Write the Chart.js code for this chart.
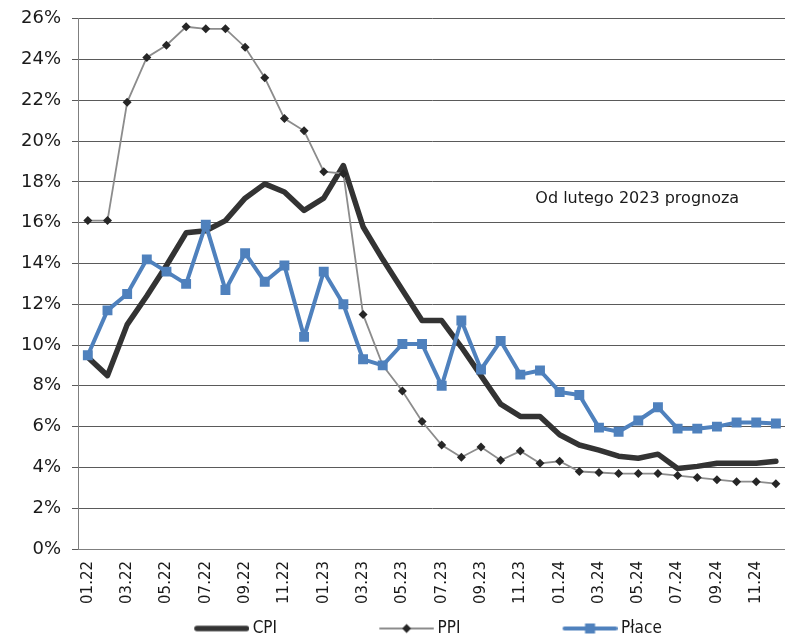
<!DOCTYPE html>
<html lang="pl">

<head>
    <meta charset="UTF-8">
    <title>CPI, PPI, Płace</title>
    <script src="https://cdn.jsdelivr.net/npm/chart.js"></script>
    <style>
        body { margin: 0; overflow: hidden; background: #fff; }
    </style>
</head>

<body>
    <canvas id="inflChart" width="806" height="647"></canvas>

    <script>
        // months 01.22 - 12.24
        const months = ['01.22', '02.22', '03.22', '04.22', '05.22', '06.22', '07.22', '08.22', '09.22', '10.22', '11.22', '12.22',
            '01.23', '02.23', '03.23', '04.23', '05.23', '06.23', '07.23', '08.23', '09.23', '10.23', '11.23', '12.23',
            '01.24', '02.24', '03.24', '04.24', '05.24', '06.24', '07.24', '08.24', '09.24', '10.24', '11.24', '12.24'];

        // values in %
        const cpi = [9.4, 8.5, 11.0, 12.4, 13.9, 15.5, 15.6, 16.1, 17.2, 17.9, 17.5, 16.6,
            17.2, 18.8, 15.8, 14.2, 12.7, 11.2, 11.2, 9.9, 8.5, 7.1, 6.5, 6.5,
            5.6, 5.1, 4.85, 4.55, 4.45, 4.65, 3.95, 4.05, 4.2, 4.2, 4.2, 4.3];
        const ppi = [16.1, 16.1, 21.9, 24.1, 24.7, 25.6, 25.5, 25.5, 24.6, 23.1, 21.1, 20.5,
            18.5, 18.4, 11.5, 9.0, 7.75, 6.25, 5.1, 4.5, 5.0, 4.35, 4.8, 4.2,
            4.3, 3.8, 3.75, 3.7, 3.7, 3.7, 3.6, 3.5, 3.4, 3.3, 3.3, 3.2];
        const place = [9.5, 11.7, 12.5, 14.2, 13.6, 13.0, 15.9, 12.7, 14.5, 13.1, 13.9, 10.4,
            13.6, 12.0, 9.3, 9.0, 10.05, 10.05, 8.0, 11.2, 8.8, 10.2, 8.55, 8.75,
            7.7, 7.55, 5.95, 5.75, 6.3, 6.95, 5.9, 5.9, 6.0, 6.2, 6.2, 6.15];

        const forecastNote = 'Od lutego 2023 prognoza';

        const CPI_COLOR = '#333333';
        const PPI_COLOR = '#8c8c8c';
        const PPI_MARK = '#262626';
        const PLACE_COLOR = '#4f81bd';

        // legend icons: a wide box, the line sample sits at its right end
        // (image is 10px wider than the box so the line comes closer to the text)
        const ICON_BOX = 140, ICON_LINE = 55, ICON_H = 14;
        function legendIcon(color, width, marker) {
            const c = document.createElement('canvas');
            c.width = ICON_BOX + 10;
            c.height = ICON_H;
            const ctx = c.getContext('2d');
            const mid = ICON_H / 2;
            const x0 = c.width - ICON_LINE;
            ctx.strokeStyle = color;
            ctx.lineWidth = width;
            ctx.lineCap = 'round';
            ctx.beginPath();
            ctx.moveTo(x0 + width / 2, mid);
            ctx.lineTo(c.width - width / 2, mid);
            ctx.stroke();
            const cx = x0 + ICON_LINE / 2;
            if (marker === 'diamond') {
                ctx.fillStyle = PPI_MARK;
                ctx.beginPath();
                ctx.moveTo(cx, mid - 4.5); ctx.lineTo(cx + 4.5, mid);
                ctx.lineTo(cx, mid + 4.5); ctx.lineTo(cx - 4.5, mid);
                ctx.closePath();
                ctx.fill();
            } else if (marker === 'square') {
                ctx.fillStyle = color;
                ctx.fillRect(cx - 5, mid - 5, 10, 10);
            }
            return c;
        }

        const icons = [
            legendIcon(CPI_COLOR, 5.5),
            legendIcon(PPI_COLOR, 2, 'diamond'),
            legendIcon(PLACE_COLOR, 4, 'square')
        ];

        // note text placed by data coordinates
        const notePlugin = {
            id: 'note',
            afterLayout(chart) {
                // legend row sits a bit left of the canvas centre
                chart.legend.left -= 36;
            },
            afterDatasetsDraw(chart) {
                const { ctx, scales: { x, y } } = chart;
                ctx.save();
                ctx.font = '16px "DejaVu Sans", Verdana, sans-serif';
                ctx.fillStyle = '#1a1a1a';
                ctx.textBaseline = 'middle';
                ctx.fillText(forecastNote, x.getPixelForValue(22) + 15, y.getPixelForValue(17.15));
                ctx.restore();
            }
        };

        const tickFont = { family: '"DejaVu Sans", Verdana, sans-serif' };

        new Chart(document.getElementById('inflChart'), {
            type: 'line',
            data: {
                labels: months,
                datasets: [{
                    label: 'CPI',
                    data: cpi,
                    borderColor: CPI_COLOR,
                    borderWidth: 5.5,
                    borderJoinStyle: 'round',
                    borderCapStyle: 'round',
                    pointRadius: 0,
                    order: 3
                }, {
                    label: 'PPI',
                    data: ppi,
                    borderColor: PPI_COLOR,
                    borderWidth: 1.8,
                    pointStyle: 'rectRot',
                    pointRadius: 4.5,
                    pointBackgroundColor: PPI_MARK,
                    pointBorderWidth: 0,
                    order: 2
                }, {
                    label: 'Płace',
                    data: place,
                    borderColor: PLACE_COLOR,
                    borderWidth: 4,
                    borderJoinStyle: 'round',
                    pointStyle: 'rect',
                    pointRadius: 7,
                    pointBackgroundColor: PLACE_COLOR,
                    pointBorderWidth: 0,
                    order: 1
                }]
            },
            options: {
                responsive: false,
                animation: false,
                layout: { padding: { top: 18, right: 4, left: 0, bottom: 0 } },
                plugins: {
                    tooltip: { enabled: false },
                    legend: {
                        position: 'bottom',
                        labels: {
                            usePointStyle: true,
                            pointStyleWidth: ICON_BOX,
                            padding: 12,
                            color: '#1a1a1a',
                            font: { family: '"DejaVu Sans Condensed", "DejaVu Sans", sans-serif', size: 17 },
                            generateLabels(chart) {
                                return chart.data.datasets.map((ds, i) => ({
                                    text: ds.label,
                                    pointStyle: icons[i],
                                    datasetIndex: i,
                                    lineWidth: 0,
                                    fontColor: '#1a1a1a'
                                }));
                            }
                        }
                    }
                },
                scales: {
                    x: {
                        offset: true,
                        grid: { display: false, drawTicks: false },
                        border: { display: true, color: '#7f7f7f', width: 1 },
                        afterFit(scale) { scale.height = 59; },
                        ticks: {
                            autoSkip: false,
                            maxRotation: 90,
                            minRotation: 90,
                            padding: 12,
                            color: '#1a1a1a',
                            font: { ...tickFont, size: 15 },
                            callback: (v, i) => (i % 2 === 0 ? months[i] : '')
                        }
                    },
                    y: {
                        min: 0,
                        max: 26,
                        afterFit(scale) { scale.width = 78; },
                        grid: { color: '#5a5a5a', lineWidth: 1, tickLength: 6 },
                        border: { display: true, color: '#7f7f7f', width: 1 },
                        ticks: {
                            stepSize: 2,
                            padding: 11,
                            color: '#1a1a1a',
                            font: { ...tickFont, size: 18, lineHeight: 0.85 },
                            callback: v => v + '%'
                        }
                    }
                }
            },
            plugins: [notePlugin]
        });
    </script>
</body>

</html>
